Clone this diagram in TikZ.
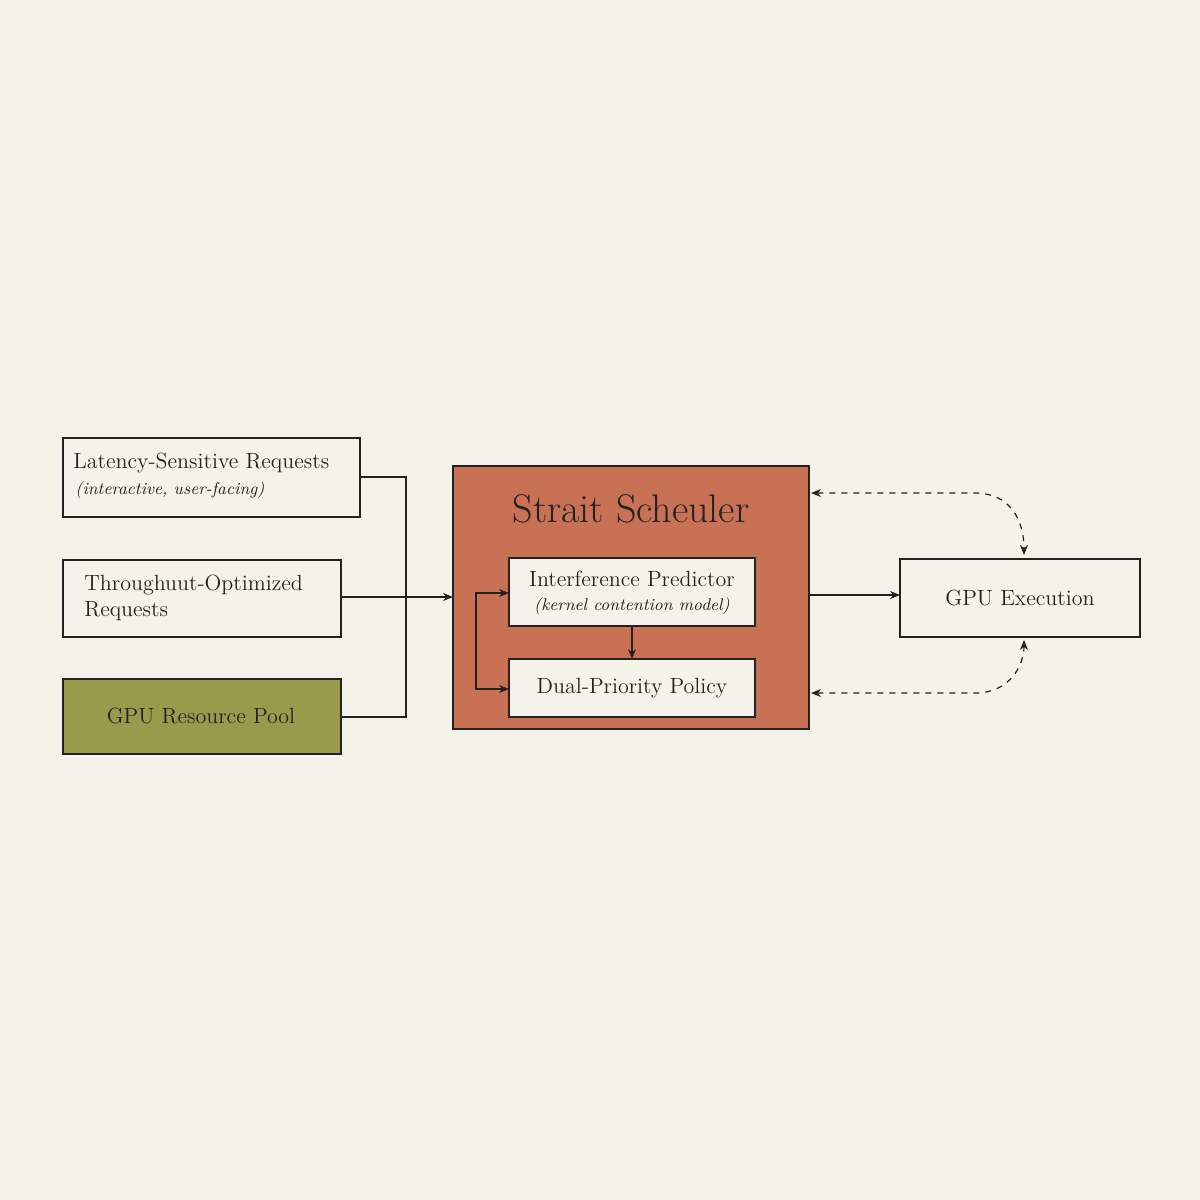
\documentclass[tikz,border=0pt]{standalone}
\usetikzlibrary{arrows.meta}
\definecolor{bg}{HTML}{F5F3E9}
\definecolor{sched}{HTML}{C87155}
\definecolor{olive}{HTML}{9A9A4C}
\definecolor{ink}{HTML}{222222}
\begin{document}
\begin{tikzpicture}[x=0.5pt,y=-0.5pt,
  box/.style={draw=ink,line width=0.6pt,fill=bg,inner sep=0pt},
  arr/.style={draw=ink,line width=0.6pt,-{Stealth[length=5pt,width=4pt]}},
  darr/.style={draw=ink,line width=0.6pt,dashed,{Stealth[length=5pt,width=4pt]}-{Stealth[length=5pt,width=4pt]}},
  txt/.style={font=\fontsize{11}{13}\selectfont,text=ink,inner sep=0pt}]
\fill[bg] (0,0) rectangle (1200,1200);
\useasboundingbox (0,0) rectangle (1200,1200);
% left boxes
\draw[box] (63,438) rectangle (360,517);
\node[txt,anchor=west] (lat) at (73,463) {Latency-Sensitive Requests};
\node[txt,anchor=west,font=\fontsize{8.5}{10}\itshape] (latsub) at (75,490) {(interactive, user-facing)};
\coordinate (latR) at (360,477);
\draw[box] (63,560) rectangle (341,637);
\node[txt,anchor=west,align=left] (thr) at (84,598) {Throughuut-Optimized\\Requests};
\coordinate (thrR) at (341,597);
\draw[box,fill=olive] (63,679) rectangle (341,754);
\node[txt] (pool) at (201,716) {GPU Resource Pool};
\coordinate (poolR) at (341,717);
\coordinate (j) at (406,597);
% scheduler
\draw[draw=ink,line width=0.6pt,fill=sched] (453,466) rectangle (809,729);
\coordinate (schL) at (453,597);
\coordinate (schR) at (809,595);
\node[txt,font=\fontsize{20}{24}\selectfont] (title) at (631,509) {Strait Scheuler};
\draw[box] (509,558) rectangle (755,626);
\node[txt] (ip) at (632,579) {Interference Predictor};
\node[txt,font=\fontsize{8.5}{10}\itshape] (ips) at (632,606) {(kernel contention model)};
\draw[box] (509,659) rectangle (755,717);
\node[txt] (dp) at (632,688) {Dual-Priority Policy};
\coordinate (ipB) at (632,626); \coordinate (dpT) at (632,659);
\coordinate (ipL) at (509,593); \coordinate (dpL) at (509,689);
\coordinate (lp1) at (476,593); \coordinate (lp2) at (476,689);
% gpu exec
\draw[box] (900,559) rectangle (1140,637);
\node[txt] (ge) at (1020,598) {GPU Execution};
\coordinate (geL) at (900,595);
\coordinate (geT) at (1024,555); \coordinate (geB) at (1024,640);
\coordinate (sT) at (811,493); \coordinate (sB) at (811,693);
% connectors
\draw[draw=ink,line width=0.6pt] (latR) -| (j) (thrR) -- (j) (poolR) -| (j);
\draw[arr] (j) -- (schL);
\draw[arr] (ipB) -- (dpT);
\draw[arr] (lp2) -- (lp1) -- (ipL);
\draw[arr] (lp1) -- (lp2) -- (dpL);
\draw[arr] (schR) -- (geL);
\draw[darr] (sT) -- (975,493) .. controls (1010,493) and (1024,520) .. (geT);
\draw[darr] (sB) -- (975,693) .. controls (1010,693) and (1024,665) .. (geB);
\end{tikzpicture}
\end{document}
